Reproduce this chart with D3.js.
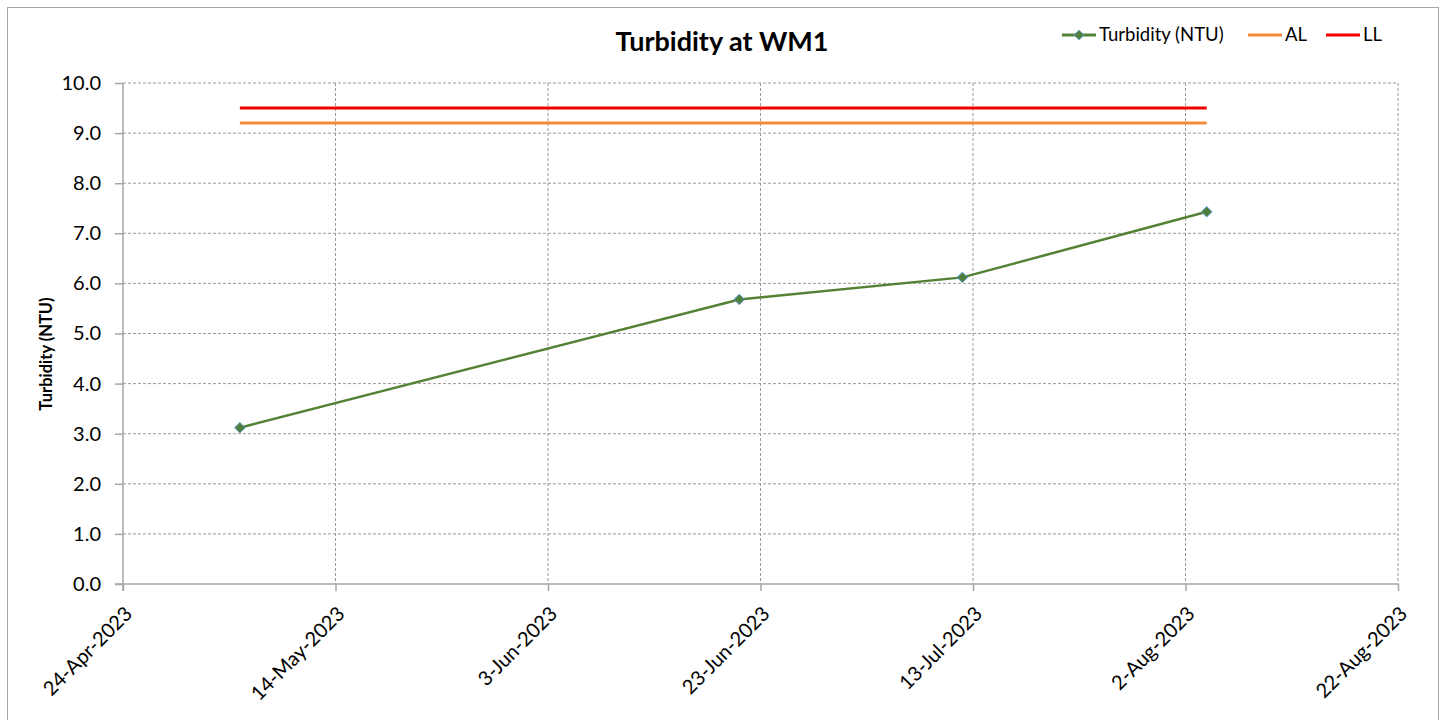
<!DOCTYPE html>
<html>
<head>
<meta charset="utf-8">
<script src="https://cdn.jsdelivr.net/npm/d3@7"></script>
<style>
  body { margin: 0; background: #fff; }
  svg, svg text { font-family: Lato, "Open Sans", sans-serif; }
</style>
</head>
<body>
<svg id="chart" width="1448" height="720"></svg>
<script>
// sample dates and turbidity readings
var sampleDates = ['2023-05-05', '2023-06-21', '2023-07-12', '2023-08-04'];
var turbidity = [3.12, 5.68, 6.12, 7.43];
// limits
var alValue = 9.2;
var llValue = 9.5;
// axis ticks
var xTickDates = ['2023-04-24', '2023-05-14', '2023-06-03', '2023-06-23', '2023-07-13', '2023-08-02', '2023-08-22'];
var yTicks = [0, 1, 2, 3, 4, 5, 6, 7, 8, 9, 10];

var parse = d3.timeParse('%Y-%m-%d');
var fmt = d3.timeFormat('%-d-%b-%Y');

var svg = d3.select('#chart');

// outer frame
svg.append('rect')
    .attr('x', 7.5).attr('y', 7.5)
    .attr('width', 1431).attr('height', 720)
    .attr('fill', '#fff').attr('stroke', '#a6a6a6');

var plotLeft = 123, plotRight = 1398, plotTop = 83, plotBottom = 584;

var x = d3.scaleTime()
    .domain([parse(xTickDates[0]), parse(xTickDates[xTickDates.length - 1])])
    .range([plotLeft, plotRight]);
var y = d3.scaleLinear().domain([0, 10]).range([plotBottom, plotTop]);

// grid
svg.append('g').selectAll('line').data(yTicks.slice(1)).enter().append('line')
    .attr('x1', plotLeft).attr('x2', plotRight)
    .attr('y1', function(d){ return y(d); }).attr('y2', function(d){ return y(d); })
    .attr('stroke', '#9a9a9a').attr('stroke-dasharray', '3,2');
svg.append('g').selectAll('line').data(xTickDates.slice(1)).enter().append('line')
    .attr('x1', function(d){ return x(parse(d)); }).attr('x2', function(d){ return x(parse(d)); })
    .attr('y1', plotTop).attr('y2', plotBottom)
    .attr('stroke', '#9a9a9a').attr('stroke-dasharray', '3,2');

// axes
var yAxis = svg.append('g')
    .attr('transform', 'translate(' + plotLeft + ',0)')
    .call(d3.axisLeft(y).tickValues(yTicks).tickFormat(d3.format('.1f')).tickSize(8).tickPadding(14));
var xAxis = svg.append('g')
    .attr('transform', 'translate(0,' + plotBottom + ')')
    .call(d3.axisBottom(x).tickValues(xTickDates.map(parse)).tickFormat(fmt).tickSize(7));

[yAxis, xAxis].forEach(function(a){
    a.attr('font-family', null).attr('font-size', null);
    a.select('.domain').attr('stroke', '#a6a6a6').attr('stroke-width', 1.5);
    a.selectAll('.tick line').attr('stroke', '#a6a6a6').attr('stroke-width', 1.5);
    a.selectAll('text').attr('fill', '#000').style('font-size', '20px');
});
yAxis.select('.domain').attr('d', 'M0,' + plotTop + 'V' + (plotBottom + 7));
xAxis.select('.domain').attr('d', 'M' + (plotLeft - 8) + ',0H' + plotRight);
xAxis.selectAll('text')
    .attr('text-anchor', 'end')
    .attr('dy', null).attr('y', 0)
    .attr('transform', 'translate(10,31) rotate(-45)');

// limit lines
var limitExtent = [parse(sampleDates[0]), parse(sampleDates[sampleDates.length - 1])];
[[alValue, '#f28b3b'], [llValue, '#f20000']].forEach(function(l){
    svg.append('line')
        .attr('x1', x(limitExtent[0])).attr('x2', x(limitExtent[1]))
        .attr('y1', y(l[0])).attr('y2', y(l[0]))
        .attr('stroke', l[1]).attr('stroke-width', 3);
});

// turbidity series
var pts = sampleDates.map(function(d, i){ return [parse(d), turbidity[i]]; });
svg.append('path')
    .datum(pts)
    .attr('fill', 'none').attr('stroke', '#548235').attr('stroke-width', 2.5)
    .attr('d', d3.line().x(function(d){ return x(d[0]); }).y(function(d){ return y(d[1]); }));
svg.append('g').selectAll('path').data(pts).enter().append('path')
    .attr('d', d3.symbol().type(d3.symbolDiamond2).size(70))
    .attr('transform', function(d){ return 'translate(' + x(d[0]) + ',' + y(d[1]) + ')'; })
    .attr('fill', '#4f7f3a').attr('stroke', '#5b9bd5').attr('stroke-width', 1);

// title
svg.append('text')
    .attr('x', 722).attr('y', 51)
    .attr('text-anchor', 'middle')
    .style('font-size', '27px').style('font-weight', 'bold')
    .text('Turbidity at WM1');

// y label
svg.append('text')
    .attr('transform', 'translate(52,354) rotate(-90)')
    .attr('text-anchor', 'middle')
    .style('font-size', '16.5px').style('font-weight', 'bold')
    .text('Turbidity (NTU)');

// legend
var legend = svg.append('g');
var items = [
    {label: 'Turbidity (NTU)', color: '#548235', x: 1062, marker: true},
    {label: 'AL', color: '#f28b3b', x: 1248},
    {label: 'LL', color: '#f20000', x: 1326}
];
items.forEach(function(it){
    legend.append('line')
        .attr('x1', it.x).attr('x2', it.x + 34).attr('y1', 35).attr('y2', 35)
        .attr('stroke', it.color).attr('stroke-width', 3);
    if(it.marker){
        legend.append('path')
            .attr('d', d3.symbol().type(d3.symbolDiamond2).size(60))
            .attr('transform', 'translate(' + (it.x + 17) + ',35)')
            .attr('fill', '#4f7f3a').attr('stroke', '#5b9bd5');
    }
    legend.append('text')
        .attr('x', it.x + 37).attr('y', 41)
        .style('font-size', '18.5px')
        .text(it.label);
});
</script>
</body>
</html>
